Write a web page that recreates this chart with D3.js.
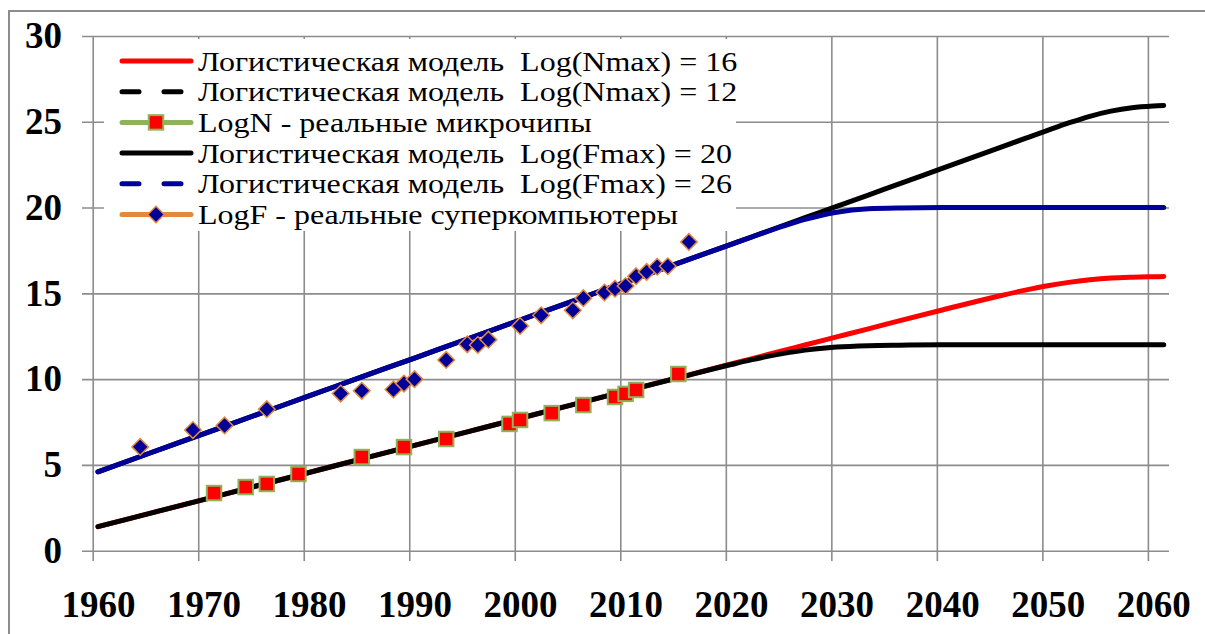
<!DOCTYPE html>
<html>
<head>
<meta charset="utf-8">
<script src="https://cdn.jsdelivr.net/npm/d3@7"></script>
<style>
  html, body { margin: 0; padding: 0; background: #fff; }
  svg { display: block; }
</style>
</head>
<body>
<svg id="chart" width="1205" height="634"></svg>
<script>
// Years at which the logistic model curves are sampled
const modelYears = [1960, 1965, 1970, 1975, 1980, 1985, 1990, 1995, 2000, 2005, 2010, 2015,
  2020, 2022, 2025, 2027, 2030, 2033, 2036, 2040, 2045, 2048, 2050, 2052, 2054, 2056, 2058, 2060, 2061];

// Logistic model, Log(Nmax) = 16
const modelN16 = [1.40, 2.19, 2.98, 3.77, 4.56, 5.35, 6.14, 6.93, 7.72, 8.51, 9.30, 10.09,
  10.88, 11.20, 11.67, 11.99, 12.46, 12.93, 13.41, 14.03, 14.79, 15.20, 15.44, 15.64, 15.79, 15.89, 15.94, 15.97, 15.98];
// Logistic model, Log(Nmax) = 12
const modelN12 = [1.40, 2.19, 2.98, 3.77, 4.56, 5.35, 6.14, 6.93, 7.72, 8.51, 9.30, 10.08,
  10.85, 11.14, 11.50, 11.69, 11.87, 11.95, 11.98, 12.00, 12.00, 12.00, 12.00, 12.00, 12.00, 12.00, 12.00, 12.00, 12.00];
// Logistic model, Log(Fmax) = 26
const modelF26 = [4.60, 5.71, 6.81, 7.92, 9.02, 10.13, 11.23, 12.34, 13.44, 14.55, 15.65, 16.76,
  17.86, 18.30, 18.97, 19.41, 20.07, 20.73, 21.40, 22.28, 23.39, 24.06, 24.50, 24.93, 25.32, 25.62, 25.82, 25.92, 25.95];
// Logistic model, Log(Fmax) = 20
const modelF20 = [4.60, 5.71, 6.81, 7.92, 9.02, 10.13, 11.23, 12.34, 13.44, 14.55, 15.65, 16.76,
  17.86, 18.29, 18.93, 19.31, 19.73, 19.93, 19.98, 20.00, 20.00, 20.00, 20.00, 20.00, 20.00, 20.00, 20.00, 20.00, 20.00];

// LogN - real microchips
const chipYears = [1971, 1974, 1976, 1979, 1985, 1989, 1993, 1999, 2000, 2003, 2006, 2009, 2010, 2011, 2015];
const chipLogN = [3.36, 3.71, 3.89, 4.47, 5.46, 6.04, 6.51, 7.39, 7.62, 8.02, 8.49, 8.96, 9.14, 9.37, 10.30];

// LogF - real supercomputers
const superYears = [1964, 1969, 1972, 1976, 1983, 1985, 1988, 1989, 1990, 1993, 1995, 1996, 1997,
  2000, 2002, 2005, 2006, 2008, 2009, 2010, 2011, 2012, 2013, 2014, 2016];
const superLogF = [6.05, 7.03, 7.30, 8.25, 9.16, 9.32, 9.40, 9.74, 10.00, 11.12, 12.03, 11.99, 12.30,
  13.10, 13.72, 14.01, 14.72, 15.05, 15.27, 15.43, 16.00, 16.25, 16.55, 16.58, 18.00];

// Axis ticks
const xTicks = [1960, 1970, 1980, 1990, 2000, 2010, 2020, 2030, 2040, 2050, 2060];
const yTicks = [0, 5, 10, 15, 20, 25, 30];

// Legend entries
const legendLabels = [
  "Логистическая модель  Log(Nmax) = 16",
  "Логистическая модель  Log(Nmax) = 12",
  "LogN - реальные микрочипы",
  "Логистическая модель  Log(Fmax) = 20",
  "Логистическая модель  Log(Fmax) = 26",
  "LogF - реальные суперкомпьютеры"
];

const FONT = "Liberation Serif, serif";

const C = {
  red: "#ff0000", black: "#000000", blue: "#000099",
  green: "#8fb35a", orange: "#e4883c", grid: "#8c8c8c"
};

const svg = d3.select("#chart");

// Outer chart frame
svg.append("rect")
  .attr("x", 9).attr("y", 11).attr("width", 1210).attr("height", 640)
  .attr("fill", "none").attr("stroke", "#8c8c8c").attr("stroke-width", 2);

const plotL = 92.7, plotR = 1169, plotT = 36, plotB = 550.7;

// Category axis: each year occupies one slot, gridlines sit at slot edges
const x = d3.scaleLinear().domain([1960, 2062]).range([plotL, plotR]);
const half = (x(1961) - x(1960)) / 2;
const cx = yr => x(yr) + half;
const y = d3.scaleLinear().domain([0, 30]).range([plotB, plotT]);

// Horizontal gridlines (with outward tick stubs)
svg.append("g")
  .attr("transform", `translate(${plotR},0)`)
  .call(d3.axisLeft(y).tickValues(yTicks).tickSize(plotR - 82).tickFormat(""))
  .call(g => g.select(".domain").remove())
  .call(g => g.selectAll("line").attr("stroke", C.grid).attr("stroke-width", 1.6));

// Vertical gridlines (with outward tick stubs)
svg.append("g")
  .attr("transform", `translate(0,561)`)
  .call(d3.axisBottom(x).tickValues(xTicks).tickSize(-(561 - plotT)).tickFormat(""))
  .call(g => g.select(".domain").remove())
  .call(g => g.selectAll("line").attr("stroke", C.grid).attr("stroke-width", 1.6));

// Y labels
svg.append("g")
  .attr("transform", `translate(65,0)`)
  .call(d3.axisLeft(y).tickValues(yTicks).tickSize(0).tickPadding(3))
  .attr("font-family", FONT)
  .call(g => g.select(".domain").remove())
  .call(g => g.selectAll("text")
    .attr("font-size", 37).attr("font-weight", "bold").attr("fill", "#000"));

// X labels, centred on each year's slot
svg.append("g")
  .attr("transform", `translate(${half},588)`)
  .call(d3.axisBottom(x).tickValues(xTicks).tickSize(0).tickPadding(3).tickFormat(d3.format("d")))
  .attr("font-family", FONT)
  .call(g => g.select(".domain").remove())
  .call(g => g.selectAll("text")
    .attr("font-size", 37).attr("font-weight", "bold").attr("fill", "#000"));

// Model curves
const line = d3.line().x(d => cx(d[0])).y(d => y(d[1])).curve(d3.curveMonotoneX);
const series = [
  { vals: modelN16, color: C.red },
  { vals: modelN12, color: C.black },
  { vals: modelF26, color: C.black },
  { vals: modelF20, color: C.blue }
];
series.forEach(s => {
  svg.append("path")
    .datum(modelYears.map((yr, i) => [yr, s.vals[i]]))
    .attr("d", line)
    .attr("fill", "none")
    .attr("stroke", s.color)
    .attr("stroke-width", 5)
    .attr("stroke-linecap", "round")
    .attr("stroke-linejoin", "round");
});

// Microchip markers
const sq = 14.5;
svg.append("g").selectAll("rect")
  .data(chipYears.map((yr, i) => [yr, chipLogN[i]]))
  .join("rect")
  .attr("x", d => cx(d[0]) - sq / 2)
  .attr("y", d => y(d[1]) - sq / 2)
  .attr("width", sq).attr("height", sq)
  .attr("fill", C.red)
  .attr("stroke", C.green).attr("stroke-width", 2);

// Supercomputer markers
const diamond = d3.symbol().type(d3.symbolDiamond2).size(175);
svg.append("g").selectAll("path")
  .data(superYears.map((yr, i) => [yr, superLogF[i]]))
  .join("path")
  .attr("transform", d => `translate(${cx(d[0])},${y(d[1])})`)
  .attr("d", diamond)
  .attr("fill", C.blue)
  .attr("stroke", C.orange).attr("stroke-width", 1.5);

// Legend
const lg = svg.append("g").attr("font-family", FONT);
lg.append("rect")
  .attr("x", 104).attr("y", 39).attr("width", 632).attr("height", 192)
  .attr("fill", "#fff");

const rowY = [61, 91.7, 122.4, 153.1, 183.8, 214.5];
const sym = [
  { color: C.red, dash: null, marker: null },
  { color: C.black, dash: "17 25", marker: null },
  { color: C.green, dash: null, marker: "square" },
  { color: C.black, dash: null, marker: null },
  { color: C.blue, dash: "17 25", marker: null },
  { color: C.orange, dash: null, marker: "diamond" }
];
legendLabels.forEach((label, i) => {
  const ly = rowY[i];
  const s = sym[i];
  lg.append("line")
    .attr("x1", 122).attr("x2", 191).attr("y1", ly).attr("y2", ly)
    .attr("stroke", s.color).attr("stroke-width", 5)
    .attr("stroke-linecap", "round")
    .attr("stroke-dasharray", s.dash);
  if (s.marker === "square") {
    lg.append("rect")
      .attr("x", 156 - sq / 2).attr("y", ly - sq / 2)
      .attr("width", sq).attr("height", sq)
      .attr("fill", C.red).attr("stroke", C.green).attr("stroke-width", 2);
  } else if (s.marker === "diamond") {
    lg.append("path")
      .attr("transform", `translate(156,${ly})`)
      .attr("d", diamond)
      .attr("fill", C.blue).attr("stroke", C.orange).attr("stroke-width", 1.5);
  }
  const t = lg.append("text")
    .attr("x", 198).attr("y", ly + 9.5)
    .attr("font-size", 32)
    .attr("fill", "#000")
    .attr("xml:space", "preserve")
    .text(label);
  // Keep the wide line length of the 32px face while using a shorter face,
  // so neighbouring rows do not collide
  const w = t.node().getComputedTextLength();
  t.attr("font-size", 27.5)
    .attr("textLength", w)
    .attr("lengthAdjust", "spacingAndGlyphs");
});
</script>
</body>
</html>
